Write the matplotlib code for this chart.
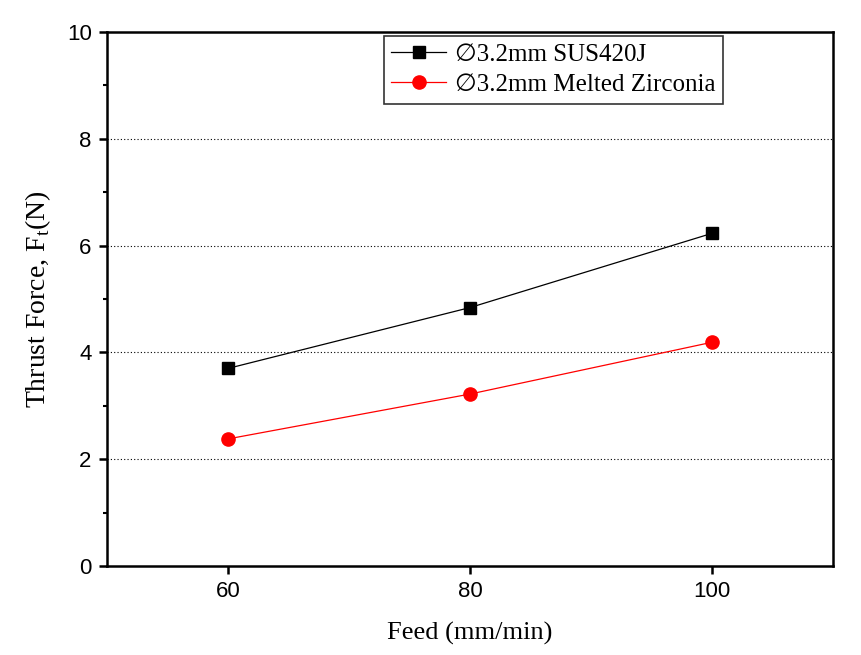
import matplotlib
matplotlib.use("Agg")
import matplotlib.pyplot as plt
from matplotlib.ticker import MultipleLocator

feed = [60, 80, 100]
sus420j = [3.70, 4.84, 6.23]
zirconia = [2.38, 3.22, 4.19]

serif = ["Liberation Serif", "DejaVu Serif", "DejaVu Sans"]
plt.rcParams["font.family"] = ["Liberation Sans", "DejaVu Sans"]
plt.rcParams["mathtext.fontset"] = "custom"
plt.rcParams["mathtext.rm"] = "Liberation Serif"

fig = plt.figure(figsize=(8.61, 6.55), dpi=100)
ax = fig.add_axes([0.1243, 0.1359, 0.8432, 0.8152])

ax.plot(feed, sus420j, color="black", lw=0.9, marker="s", ms=8.5,
        label="\u22053.2mm SUS420J")
ax.plot(feed, zirconia, color="red", lw=0.9, marker="o", ms=9.5,
        label="\u22053.2mm Melted Zirconia")

ax.set_xlim(50, 110)
ax.set_ylim(0, 10)
ax.set_xticks([60, 80, 100])
ax.set_yticks([0, 2, 4, 6, 8, 10])
ax.yaxis.set_minor_locator(MultipleLocator(1))

for y in [2, 4, 6, 8]:
    ax.axhline(y, color="black", lw=0.8, ls=(0, (1, 2)), zorder=0)

for s in ax.spines.values():
    s.set_linewidth(1.8)
ax.tick_params(which="major", direction="out", length=6, width=1.8,
               labelsize=16, top=False, right=False, pad=5)
ax.tick_params(which="minor", direction="out", length=3, width=1.5)
ax.tick_params(axis="x", which="minor", bottom=False)

ax.set_xlabel("Feed (mm/min)", family=serif, fontsize=19, labelpad=14)
ax.set_ylabel(r"Thrust Force, F$_\mathregular{t}$(N)", family=serif,
              fontsize=20, labelpad=10)

leg = ax.legend(loc="upper left", bbox_to_anchor=(0.3815, 0.9925),
                prop={"family": serif, "size": 18}, frameon=True,
                fancybox=False, edgecolor="black", borderpad=0.3,
                handlelength=2.2, labelspacing=0.3, borderaxespad=0,
                handletextpad=0.35)
leg.get_frame().set_linewidth(1.2)

fig.savefig("out.png", dpi=100)
